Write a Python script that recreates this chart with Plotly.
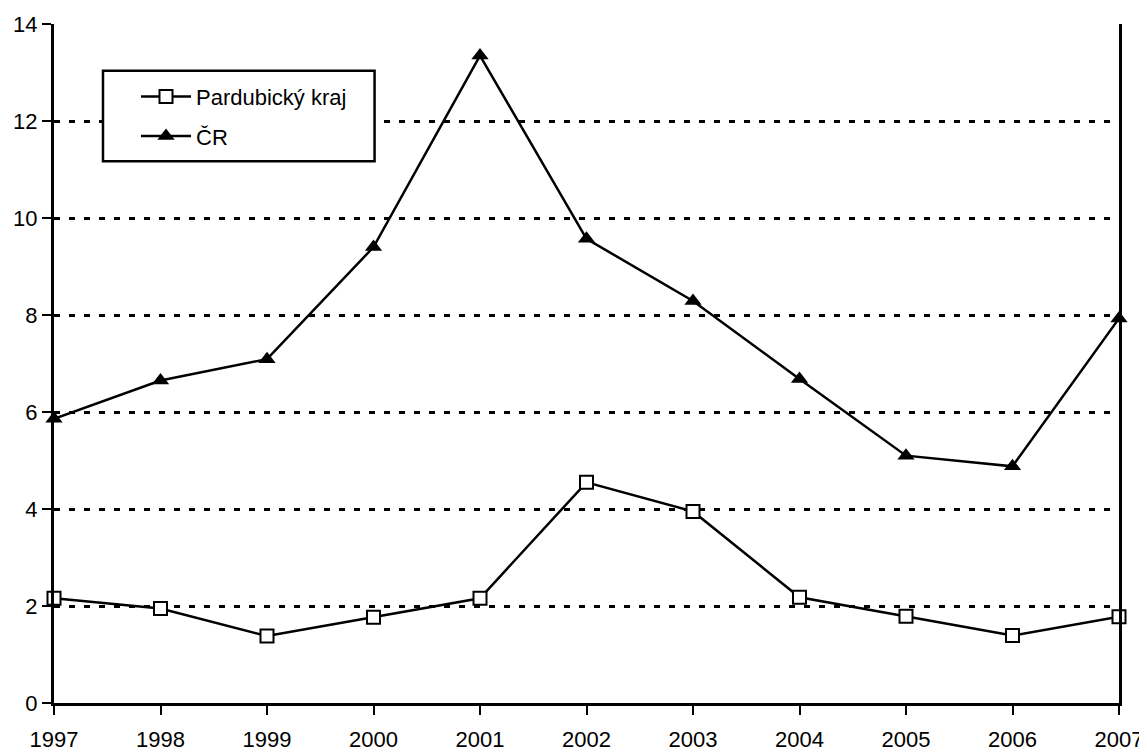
import plotly.graph_objects as go

years = [1997, 1998, 1999, 2000, 2001, 2002, 2003, 2004, 2005, 2006, 2007]
pardubicky = [2.16, 1.95, 1.38, 1.77, 2.16, 4.55, 3.95, 2.18, 1.79, 1.39, 1.78]
cr = [5.86, 6.65, 7.09, 9.40, 13.35, 9.57, 8.29, 6.68, 5.10, 4.88, 7.93]
y_ticks = [0, 2, 4, 6, 8, 10, 12, 14]

FONT = "Liberation Sans, Arial, sans-serif"

fig = go.Figure(data=[
    go.Scatter(
        x=years,
        y=pardubicky,
        mode='lines+markers',
        name='Pardubický kraj',
        legendgroup='pk',
        line=dict(color='black', width=2.5),
        marker=dict(symbol='square', size=13, color='white',
                    line=dict(color='black', width=2)),
        cliponaxis=False
    ),
    go.Scatter(
        x=years,
        y=cr,
        mode='lines+markers',
        name='ČR',
        legendgroup='cr',
        line=dict(color='black', width=2.5),
        marker=dict(symbol='triangle-up', size=15, color='black'),
        cliponaxis=False
    ),
])

# legend frame (wider than plotly's own box)
fig.add_shape(type='rect', xref='paper', yref='paper',
              x0=0.046, x1=0.301, y0=0.798, y1=0.931,
              line=dict(color='black', width=2.5), fillcolor='white',
              layer='above')

# page body has an 8px margin, so the figure is a bit smaller than the window
fig.update_layout(
    width=1139,
    height=748,
    plot_bgcolor='white',
    paper_bgcolor='white',
    font=dict(family=FONT, size=22, color='black'),
    margin=dict(l=46, r=28, t=16, b=53, autoexpand=False),
    showlegend=True,
    legend=dict(
        x=0.077,
        y=0.924,
        xanchor='left',
        yanchor='top',
        font=dict(family=FONT, size=22, color='black'),
        bgcolor='rgba(0,0,0,0)',
        borderwidth=0,
        itemwidth=50,
        traceorder='grouped',
        tracegroupgap=8
    ),
    xaxis=dict(
        range=[1997, 2007],
        tickvals=years,
        showgrid=False,
        zeroline=False,
        showline=True,
        linecolor='black',
        linewidth=3,
        ticks='outside',
        ticklen=9,
        tickwidth=2,
        tickcolor='black',
        ticklabelstandoff=6,
        tickfont=dict(family=FONT, size=22),
        automargin=False
    ),
    yaxis=dict(
        range=[0, 14],
        tickvals=y_ticks,
        showgrid=True,
        gridcolor='black',
        gridwidth=3,
        griddash='6px,9px',
        zeroline=False,
        showline=True,
        linecolor='black',
        linewidth=3,
        mirror=True,
        ticks='outside',
        ticklen=9,
        tickwidth=2,
        tickcolor='black',
        tickfont=dict(family=FONT, size=22),
        automargin=False
    )
)

fig.write_html("out.html")
